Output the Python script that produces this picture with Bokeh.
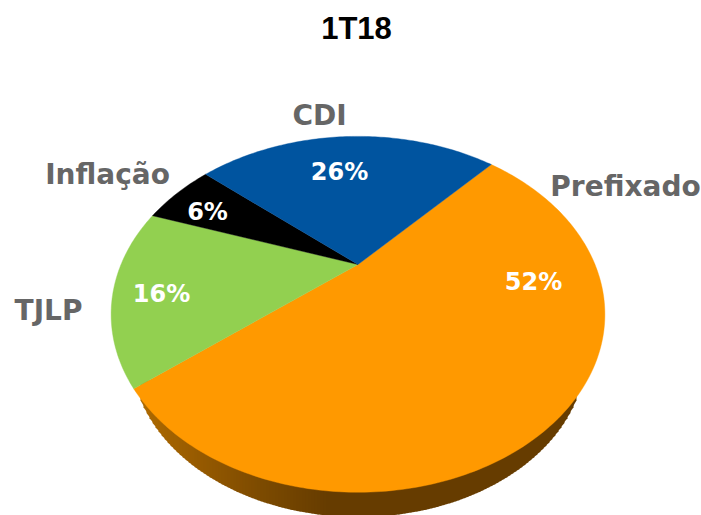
import numpy as np
from bokeh.plotting import figure
from bokeh.models import Range1d
from bokeh.core.properties import value
from bokeh.embed import file_html
from bokeh.resources import INLINE

title = "1T18"
categories = ["Prefixado", "TJLP", "Inflação", "CDI"]
shares = [52.4, 16.0, 6.0, 25.6]
colors = ["#FF9900", "#92D050", "#000000", "#00549F"]

# layout (page pixels)
W, H = 701, 515
CX, CY = 357.5, 264
A, B, K = 237.0, 164.0, 0.28      # perspective disc
START = 42.7                      # degrees clockwise from top
SIDE_SCALE, SIDE_DROP = 0.92, 43  # lower rim of the disc
name_pos = [(625, 186), (48, 310), (107, 174), (319, 115)]
pct_pos = [(533, 281), (161, 293), (207, 211), (339, 171)]
shade_x = [135, 200, 260, 330, 600]
shade_rgb = [(176, 108, 0), (150, 90, 0), (125, 75, 0), (102, 60, 0), (102, 60, 0)]


def rim(deg):
    t = np.radians(90 - np.asarray(deg, dtype=float))
    w = 1 + K * np.sin(t)
    return A * np.cos(t) / w, B * np.sin(t) / w


p = figure(width=W, height=H, output_backend="svg", toolbar_location=None,
           x_range=Range1d(0, W), y_range=Range1d(H, 0),
           min_border=0, outline_line_color=None, background_fill_color="white")
p.axis.visible = False
p.grid.visible = False

# side wall: vertical strips under the lower rim
deg = np.linspace(90, 270, 721)
rx, ry = rim(deg)
bx = CX + SIDE_SCALE * rx
by = CY - (SIDE_SCALE * ry - SIDE_DROP)
order = np.argsort(bx)
bx, by = bx[order], by[order]
top_y = 380
gx = np.arange(np.ceil(bx[0]), np.floor(bx[-1]), 3.0)
gy = np.interp(gx, bx, by)
keep = gy > top_y
gx, gy = gx[keep], gy[keep]
xs, ys, cs = [], [], []
for i in range(len(gx) - 1):
    mid = (gx[i] + gx[i + 1]) / 2
    rgb = [int(np.interp(mid, shade_x, [c[j] for c in shade_rgb])) for j in range(3)]
    xs.append([gx[i], gx[i + 1] + 1, gx[i + 1] + 1, gx[i]])
    ys.append([gy[i], gy[i + 1], top_y, top_y])
    cs.append("#%02x%02x%02x" % tuple(rgb))
p.patches(xs, ys, fill_color=cs, line_color=None)

# top surface
a0 = START
for s, c in zip(shares, colors):
    a1 = a0 + s * 3.6
    d = np.linspace(a0, a1, max(int(s * 4), 8))
    ex, ey = rim(d)
    p.patch(np.r_[CX, CX + ex], np.r_[CY, CY - ey], fill_color=c, line_color=c, line_width=0.4)
    a0 = a1

for name, (x, y) in zip(categories, name_pos):
    p.text([x], [y], text=[name], text_font=value("DejaVu Sans"), text_font_style="bold",
           text_font_size="28px", text_color="#666666", text_align="center", text_baseline="middle")
for s, (x, y) in zip(shares, pct_pos):
    p.text([x], [y], text=[f"{round(s)}%"], text_font=value("DejaVu Sans"), text_font_style="bold",
           text_font_size="24px", text_color="#FFFFFF", text_align="center", text_baseline="middle")
p.text([356], [28], text=[title], text_font=value("Liberation Sans"), text_font_style="bold",
       text_font_size="31px", text_color="#000000", text_align="center", text_baseline="middle")

open("out.html", "w").write(file_html(p, INLINE))
